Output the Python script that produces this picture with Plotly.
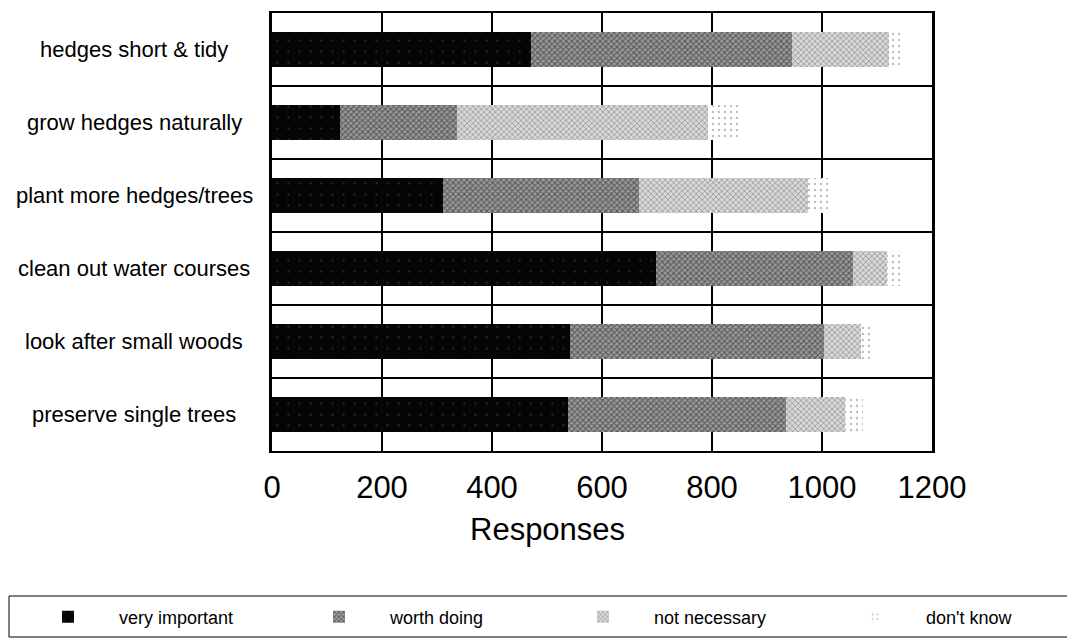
import plotly.graph_objects as go

categories = ["hedges short & tidy", "grow hedges naturally", "plant more hedges/trees",
              "clean out water courses", "look after small woods", "preserve single trees"]
very_important = [470, 123, 310, 698, 542, 538]
worth_doing = [476, 213, 358, 359, 461, 396]
not_necessary = [175, 456, 307, 61, 68, 107]
dont_know = [20, 62, 40, 26, 24, 34]
x_ticks = [0, 200, 400, 600, 800, 1000, 1200]

series = [
    ("very important", very_important, "#080808",
     dict(shape=".", fgcolor="#444444", bgcolor="#050505", size=11, solidity=0.04)),
    ("worth doing", worth_doing, "#5a5a5a",
     dict(shape="x", fgcolor="#111111", bgcolor="#9a9a9a", size=4, solidity=0.45)),
    ("not necessary", not_necessary, "#b0b0b0",
     dict(shape="x", fgcolor="#555555", bgcolor="#d8d8d8", size=4, solidity=0.35)),
    ("don't know", dont_know, "#f2f2f2",
     dict(shape=".", fgcolor="#777777", bgcolor="#ffffff", size=6, solidity=0.12)),
]

W, H = 1067, 631
legend_x_px = [9, 280, 544, 816]
FONT = "Liberation Sans, Arial, sans-serif"

fig = go.Figure()
for i, (name, vals, col, pat) in enumerate(series):
    fig.add_trace(go.Bar(
        y=categories, x=vals, name=name, orientation="h",
        marker=dict(color=col, line=dict(width=0), pattern=pat),
        legend="legend" if i == 0 else f"legend{i + 1}",
    ))

layout_legends = {}
for i, xp in enumerate(legend_x_px):
    key = "legend" if i == 0 else f"legend{i + 1}"
    layout_legends[key] = dict(
        orientation="h", xref="container", yref="container",
        x=xp / W, y=1 - 609 / H, xanchor="left", yanchor="middle",
        borderwidth=0, bgcolor="rgba(0,0,0,0)",
        font=dict(size=18, family=FONT), itemwidth=92,
    )

ML, MR, MT, MB = 264, 143, 5, 188
PW, PH = W - ML - MR, H - MT - MB

fig.update_layout(
    width=W, height=H,
    barmode="stack", bargap=0.53,
    plot_bgcolor="white", paper_bgcolor="white",
    margin=dict(l=ML, r=MR, t=MT, b=MB, autoexpand=False),
    font=dict(family=FONT, color="black"),
    showlegend=True,
    **layout_legends,
)

fig.update_xaxes(
    range=[0, 1200], tickvals=x_ticks, ticktext=[str(v) for v in x_ticks],
    showgrid=True, gridcolor="black", gridwidth=2,
    showline=True, linecolor="black", linewidth=2, mirror=True,
    zeroline=False, ticks="", tickfont=dict(size=31, family=FONT),
    ticklabelstandoff=8,
)
fig.update_yaxes(
    type="category", categoryorder="array", categoryarray=categories,
    autorange="reversed", tickson="boundaries",
    showgrid=True, gridcolor="black", gridwidth=2,
    showline=True, linecolor="black", linewidth=3, mirror=True,
    ticks="", showticklabels=False,
)

for c in categories:
    fig.add_annotation(
        x=-0.209, xref="paper", y=c, yref="y", text=c, showarrow=False,
        xanchor="center", yanchor="middle", font=dict(size=22, family=FONT),
    )

fig.add_annotation(
    x=(547 - 272) / PW, xref="paper", y=-(529 - 451) / PH, yref="paper",
    yanchor="middle", text="Responses", showarrow=False, xanchor="center",
    font=dict(size=31, family=FONT),
)

# legend frame
fig.add_shape(
    type="rect", xref="paper", yref="paper",
    x0=(1 - ML) / PW, x1=(W + 5 - ML) / PW,
    y0=-(629 - (MT + PH)) / PH, y1=-(588 - (MT + PH)) / PH,
    line=dict(color="black", width=1), fillcolor="rgba(0,0,0,0)", layer="below",
)

fig.write_html("out.html")
